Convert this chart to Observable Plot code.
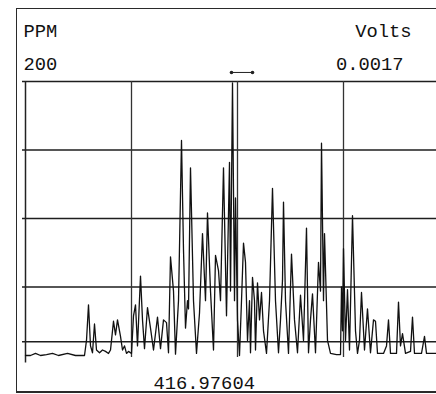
<!DOCTYPE html>
<html>
<head>
<meta charset="utf-8">
<script src="https://cdn.jsdelivr.net/npm/d3@7"></script>
<script src="https://cdn.jsdelivr.net/npm/@observablehq/plot@0.6"></script>
<style>
  html, body { margin: 0; padding: 0; background: #fff; }
  #wrap { position: relative; width: 436px; height: 394px; overflow: hidden; background: #fff; }
  #frame { position: absolute; left: 16px; top: 8px; width: 440px; height: 385px; box-sizing: border-box;
           border: 1.6px solid #2a2a2a; border-right: none; border-bottom-width: 2px; pointer-events: none; }
  #wrap svg { position: absolute; left: 0; top: 0; }
</style>
</head>
<body>
<div id="wrap"><div id="frame"></div></div>
<script>
// scan position (sample index) and signal in PPM
const scanPos = [0,5,10,15,21,27,33,42,50,59,61,63,65,67,69,71,74,77,80,83,85,87,88,90,92,94,95,97,99,101,103,106,108,110,112,115,117,119,122,125,128,132,135,138,141,143,145,148,150,153,156,158,160,162,163,165,168,171,174,177,180,182,185,188,190,193,195,198,201,204,205,207,209,210,212,214,216,218,220,222,224,225,227,229,230,232,234,236,238,241,244,247,250,253,255,257,258,260,263,266,269,272,275,278,281,283,285,287,290,293,295,296,298,299,302,305,311,315,316,317,318,320,322,324,327,330,332,334,336,339,342,345,348,350,352,358,361,363,365,371,373,375,377,380,385,387,389,396,399,401,411];
const ppm = [0,0,1.5,0,0.7,1.5,0,1.5,0,0,11,37,7,2,23,4,2,4,3,1.5,4,18,25,15,26,18,14,4,7,1.5,3,1.5,29,37,7,58,26,5,35,20,4,28,5,26,24,2,72,47,1,40,157,77,20,40,34,137,40,1.5,31,89,40,104,47,4,73,62,40,137,29,141,47,199,40,115,26,0,40,82,68,11,40,2,57,40,4,53,26,46,18,1.5,40,122,40,2,26,55,112,40,1.5,74,26,2,44,11,93,2,26,45,2,68,47,155,40,89,11,1.5,0.7,0.7,50,18,78,11,48,4,102,18,1.5,11,46,4,34,2,26,25,1.5,1.5,7,26,1.5,1.5,39,7,16,1.5,3,28,1.5,1.5,14,1.5,1.5];

const yGrid = [10, 50, 100, 150, 200];
const xGrid = [106, 212, 318];
const axisLeft = [0];
const marker = [206, 227];
const markerLevel = 206.6;

const yTitle = "PPM";
const yTitleRight = "Volts";
const yMaxLabel = "200";
const yMaxRight = "0.0017";
const xLabel = "416.97604";

const rows = scanPos.map((t, i) => ({t, v: ppm[i]}));
const font = "Liberation Mono, DejaVu Sans Mono, monospace";
const fs = 18.8;

const chart = Plot.plot({
  width: 436,
  height: 394,
  marginLeft: 25,
  marginRight: 0,
  marginTop: 81,
  marginBottom: 39,
  style: {background: "transparent"},
  x: {domain: [0, 411], axis: null},
  y: {domain: [0, 200], axis: null},
  marks: [
    Plot.ruleY(yGrid, {x1: -3, x2: 411, stroke: "#1e1e1e", strokeWidth: 1.5}),
    Plot.ruleX(xGrid, {y1: -1.5, y2: 200, stroke: "#333", strokeWidth: 1.3}),
    Plot.ruleX(axisLeft, {y1: -5.5, y2: 200, stroke: "#222", strokeWidth: 1.5}),
    Plot.line(rows, {x: "t", y: "v", stroke: "#111", strokeWidth: 1.3}),
    Plot.link([marker], {x1: d => d[0], x2: d => d[1], y1: markerLevel, y2: markerLevel, stroke: "#222", strokeWidth: 1}),
    Plot.dot(marker, {x: d => d, y: markerLevel, r: 1.8, fill: "#222", stroke: null}),
    Plot.text([yTitle], {text: d => d, frameAnchor: "top-left", dx: -2, dy: -45, textAnchor: "start", lineAnchor: "bottom", fontSize: fs, fontFamily: font, fill: "#111"}),
    Plot.text([yMaxLabel], {text: d => d, frameAnchor: "top-left", dx: -2, dy: -12, textAnchor: "start", lineAnchor: "bottom", fontSize: fs, fontFamily: font, fill: "#111"}),
    Plot.text([yTitleRight], {text: d => d, frameAnchor: "top-right", dx: -25, dy: -45, textAnchor: "end", lineAnchor: "bottom", fontSize: fs, fontFamily: font, fill: "#111"}),
    Plot.text([yMaxRight], {text: d => d, frameAnchor: "top-right", dx: -33, dy: -12, textAnchor: "end", lineAnchor: "bottom", fontSize: fs, fontFamily: font, fill: "#111"}),
    Plot.text([xLabel], {text: d => d, frameAnchor: "bottom-left", dx: 128, dy: 33, textAnchor: "start", lineAnchor: "bottom", fontSize: fs, fontFamily: font, fill: "#111"})
  ]
});
document.getElementById("wrap").insertBefore(chart, document.getElementById("frame"));
</script>
</body>
</html>
